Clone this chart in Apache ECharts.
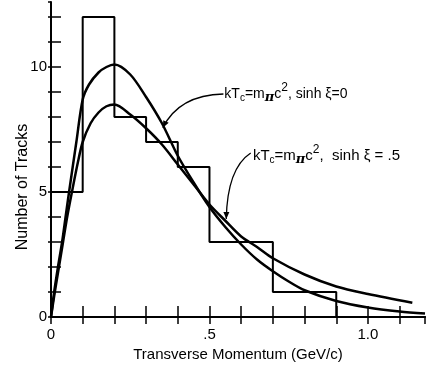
<!DOCTYPE html>
<html>
<head>
<meta charset="utf-8">
<script src="https://cdn.jsdelivr.net/npm/echarts@6/dist/echarts.min.js"></script>
<style>
html,body{margin:0;padding:0;background:#fff}
#c{width:426px;height:367px}
</style>
</head>
<body>
<div id="c"></div>
<script>
/* pT spectrum: histogram of tracks + two thermal-model curves */
var binEdges = [0, 0.1, 0.2, 0.3, 0.4, 0.5, 0.6, 0.7, 0.8, 0.9];
var trackCounts = [5, 12, 8, 7, 6, 3, 3, 1, 1];

// kTc = m_pi c^2, sinh xi = 0
var curve0X = [0, 0.01, 0.022, 0.035, 0.046, 0.057, 0.08, 0.1, 0.12, 0.15, 0.175, 0.2, 0.25, 0.3, 0.35, 0.4, 0.45, 0.5, 0.55, 0.6, 0.65, 0.7, 0.75, 0.8, 0.9, 1.0, 1.1, 1.18];
var curve0Y = [0, 1, 2, 3, 4, 5, 7.0, 8.7, 9.3, 9.78, 10.0, 10.1, 9.7, 8.8, 7.75, 6.45, 5.38, 4.4, 3.6, 2.9, 2.3, 1.83, 1.42, 1.07, 0.64, 0.38, 0.22, 0.14];
// kTc = m_pi c^2, sinh xi = .5
var curve5X = [0, 0.012, 0.025, 0.038, 0.051, 0.066, 0.085, 0.1, 0.125, 0.15, 0.175, 0.2, 0.25, 0.3, 0.35, 0.4, 0.45, 0.5, 0.55, 0.6, 0.65, 0.7, 0.8, 0.9, 1.0, 1.14];
var curve5Y = [0, 1, 2, 3, 4, 5, 6.2, 7.0, 7.75, 8.18, 8.43, 8.5, 8.1, 7.55, 6.9, 6.1, 5.3, 4.5, 3.85, 3.22, 2.8, 2.35, 1.7, 1.22, 0.92, 0.57];

var xTickText = {0: "0", 5: ".5", 10: "1.0"};
var yTickText = {0: "0", 5: "5", 10: "10"};

var FONT = "Liberation Sans";

var histData = trackCounts.map(function(c, i){ return [binEdges[i], c]; });
histData.push([binEdges[binEdges.length - 1], 0]);
function pairs(xs, ys){ return xs.map(function(x, i){ return [x, ys[i]]; }); }

var chart = echarts.init(document.getElementById("c"), null, {renderer: "canvas"});

var axisLine = {show: true, lineStyle: {color: "#000", width: 2}};
chart.setOption({
  animation: false,
  backgroundColor: "#fff",
  grid: {left: 51, right: 1, top: 2, bottom: 47},
  xAxis: [{
    type: "value", min: 0, max: 1.18, interval: 0.1,
    axisLine: axisLine,
    axisTick: {inside: true, length: 11, lineStyle: {color: "#000", width: 1.5}},
    splitLine: {show: false},
    axisLabel: {color: "#000", fontSize: 15, fontFamily: FONT, margin: 10, showMaxLabel: false,
      formatter: function(v){ return xTickText[Math.round(v * 10)] || ""; }},
    name: "Transverse Momentum (GeV/c)", nameLocation: "middle", nameGap: 30,
    nameTextStyle: {color: "#000", fontSize: 15, fontFamily: FONT}
  }, {
    type: "value", position: "top", min: 0, max: 1.18, interval: 0.1,
    axisLine: axisLine,
    axisTick: {inside: true, length: 7, lineStyle: {color: "#000", width: 1.5}},
    axisLabel: {show: false}, splitLine: {show: false}
  }],
  yAxis: [{
    type: "value", min: 0, max: 12.6, interval: 1,
    axisLine: axisLine,
    axisTick: {inside: true, length: 10, lineStyle: {color: "#000", width: 1.5}},
    splitLine: {show: false},
    axisLabel: {color: "#000", fontSize: 15, fontFamily: FONT, margin: 4, showMaxLabel: false,
      formatter: function(v){ return yTickText[Math.round(v)] || ""; }}
  }, {
    type: "value", position: "right", min: 0, max: 12.6, interval: 1,
    axisLine: {show: false},
    axisTick: {inside: true, length: 3, lineStyle: {color: "#000", width: 1.5}},
    axisLabel: {show: false}, splitLine: {show: false}
  }],
  series: [{
    type: "line", step: "end", data: histData, symbol: "none",
    lineStyle: {color: "#000", width: 2}, emphasis: {disabled: true}
  }, {
    type: "line", data: pairs(curve0X, curve0Y), symbol: "none", smooth: 0.3,
    lineStyle: {color: "#000", width: 2.5}, emphasis: {disabled: true}
  }, {
    type: "line", data: pairs(curve5X, curve5Y), symbol: "none", smooth: 0.3,
    lineStyle: {color: "#000", width: 2.5}, emphasis: {disabled: true}
  }]
});

// annotations, anchored in data coordinates
var notes = [
  {text: "{n|kT}{s|c}{n|=m}{pi|\u03c0}{n|c}{p|2}{n|, sinh \u03be=0}", at: [0.547, 8.92],
   tail: [0.544, 8.92], ctrl: [0.404, 8.88], tip: [0.353, 7.57]},
  {text: "{m|kT}{s|c}{m|=m}{pi|\u03c0}{m|c}{p|2}{m|,  sinh \u03be = .5}", at: [0.637, 6.45],
   tail: [0.63, 6.56], ctrl: [0.556, 5.94], tip: [0.553, 3.92]}
];
function px(p){ return chart.convertToPixel({gridIndex: 0}, p); }
var rich = {
  n: {fontSize: 14, fontFamily: FONT, fill: "#000"},
  m: {fontSize: 15, fontFamily: FONT, fill: "#000"},
  s: {fontSize: 10, fontFamily: FONT, fill: "#000", padding: [8, 0, 0, 0]},
  pi: {fontSize: 13, fontFamily: "DejaVu Serif", fontStyle: "italic", fontWeight: "bold", fill: "#000", padding: [7, 0, 0, 0]},
  p: {fontSize: 12, fontFamily: FONT, fill: "#000", padding: [0, 0, 13, 0]}
};
var g = [];
notes.forEach(function(nt){
  var a = px(nt.at), t0 = px(nt.tail), c = px(nt.ctrl), t1 = px(nt.tip);
  g.push({type: "text", x: a[0], y: a[1],
    style: {text: nt.text, rich: rich, align: "left", verticalAlign: "middle", fill: "#000"}});
  g.push({type: "bezierCurve",
    shape: {x1: t0[0], y1: t0[1], cpx1: c[0], cpy1: c[1], x2: t1[0], y2: t1[1]},
    style: {stroke: "#000", lineWidth: 1.3, fill: null}});
  var dx = t1[0] - c[0], dy = t1[1] - c[1], L = Math.sqrt(dx*dx + dy*dy);
  dx /= L; dy /= L;
  var bx = t1[0] - dx*7, by = t1[1] - dy*7;
  g.push({type: "polygon",
    shape: {points: [[t1[0], t1[1]], [bx - dy*3, by + dx*3], [bx + dy*3, by - dx*3]]},
    style: {fill: "#000"}});
});
var yMid = px([0, 5.2]);
g.push({type: "text", x: 23, y: yMid[1], rotation: Math.PI/2,
  style: {text: "Number of Tracks", font: "16px " + FONT, fill: "#000", align: "center", verticalAlign: "middle"}});
chart.setOption({graphic: g});
</script>
</body>
</html>
